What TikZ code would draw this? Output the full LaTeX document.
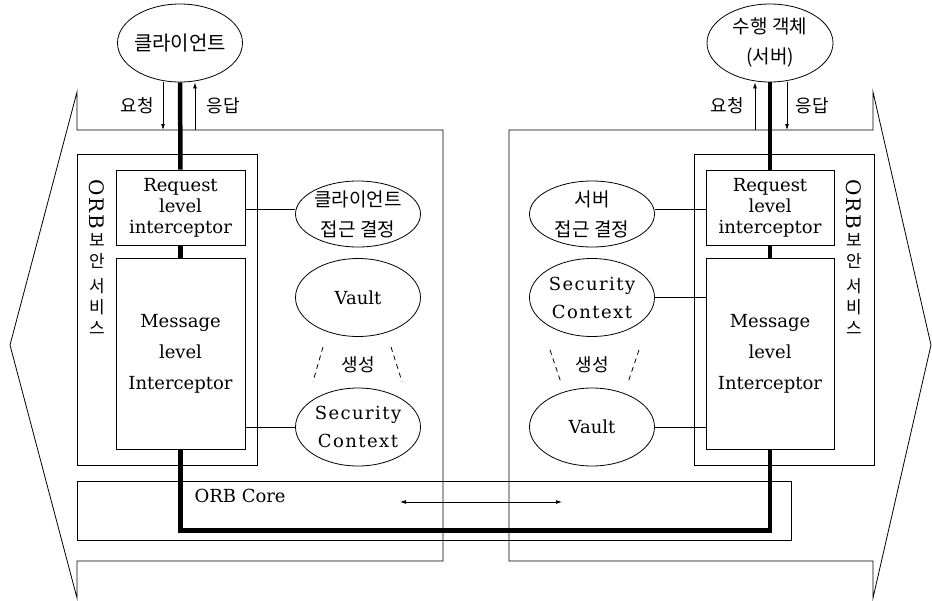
\documentclass[tikz,border=0pt]{standalone}
\usepackage{fontspec}
\setmainfont{DejaVu Serif}
\newfontfamily\kr{Noto Sans CJK KR}
\newfontfamily\wide[LetterSpace=8]{DejaVu Serif}
\usepackage{tikz}
\usetikzlibrary{shapes.geometric, arrows.meta}

\tikzset{
    wire/.style={line width=0.8pt},
    bus/.style={line width=4.5pt},
    box/.style={draw, wire, rectangle, align=center, inner sep=0pt},
    oval/.style={draw, wire, ellipse, inner sep=0pt, minimum width=125pt, minimum height=78pt},
    txt/.style={font=\fontsize{18}{21}\selectfont, align=center},
    hangul/.style={font=\kr\fontsize{18}{30}\selectfont, align=center},
    arr/.style={wire, -{Latex[length=6pt, width=4pt]}},
    gen/.style={wire, dash pattern=on 5pt off 4pt},
}

\newcommand{\svcname}{\rotatebox{-90}{\fontsize{20}{20}\selectfont O\kern2pt R\kern2pt B}\\[3pt]{\kr 보}\\{\kr 안}\\[4pt]{\kr 서}\\{\kr 비}\\{\kr 스}}

\begin{document}
\begin{tikzpicture}[x=1pt, y=-1pt]
    \useasboundingbox (0,0) rectangle (932,600);

    % Client machine (left)
    \begin{scope}
        \coordinate (L1) at (77, 92);
        \coordinate (L2) at (77, 130);
        \coordinate (L3) at (443, 130);
        \coordinate (L4) at (443, 561);
        \coordinate (L5) at (77, 561);
        \coordinate (L6) at (77, 598);
        \coordinate (L7) at (10, 345);
        \draw[wire] (L1) -- (L2) -- (L3) -- (L4) -- (L5) -- (L6) -- (L7) -- cycle;

        % ORB security service
        \node[box, minimum width=180pt, minimum height=311pt] (lsec) at (167, 309.5) {};
        \node[font=\fontsize{17}{21}\selectfont, align=center] (lsecname) at (97, 257) {\svcname};
        \node[box, txt, minimum width=129pt, minimum height=75pt] (lreq) at (180.5, 207.5)
            {Request\\level\\interceptor};
        \node[box, font=\fontsize{18}{31}\selectfont, minimum width=129pt, minimum height=191pt] (lmsg) at (180.5, 353.5)
            {Message\\level\\Interceptor};

        % client and its objects
        \node[oval] (cli) at (180, 43) {};
        \node[hangul, font=\kr\fontsize{20}{30}\selectfont] at (cli) {클라이언트};
        \node[oval, minimum height=66pt] (cliacc) at (358, 214) {};
        \node[hangul, font=\kr\fontsize{19}{30}\selectfont] at (cliacc) {클라이언트\\접근 결정};
        \node[oval] (lvault) at (358, 297.5) {};
        \node[txt] at (lvault) {Vault};
        \node[oval] (lctx) at (358, 427) {};
        \node[txt, font=\wide\fontsize{18}{28}\selectfont] at (lctx) {Security\\Context};

        \node[hangul] at (358, 365) {생성};
        \draw[gen] ([xshift=-35pt, yshift=-10pt]lvault.south) -- ([xshift=-45pt, yshift=6pt]lctx.north);
        \draw[gen] ([xshift=33pt, yshift=-10pt]lvault.south) -- ([xshift=44pt, yshift=6pt]lctx.north);

        % request and reply
        \draw[arr] ([xshift=-17pt]cli.south) -- ([xshift=-17pt]cli.south |- L2);
        \draw[arr] ([xshift=15pt]cli.south |- L2) -- ([xshift=15pt]cli.south);
        \node[hangul] at (137, 106) {요청};
        \node[hangul] at (223, 106) {응답};

        \draw[wire] (lreq.east |- 0,209) -- (cliacc.west |- 0,209);
        \draw[wire] (lctx.west) -- (lctx.west -| lmsg.east);
    \end{scope}

    % Server machine (right)
    \begin{scope}
        \coordinate (R1) at (873, 92);
        \coordinate (R2) at (873, 130);
        \coordinate (R3) at (509, 130);
        \coordinate (R4) at (509, 561);
        \coordinate (R5) at (873, 561);
        \coordinate (R6) at (873, 598);
        \coordinate (R7) at (931, 345);
        \draw[wire] (R1) -- (R2) -- (R3) -- (R4) -- (R5) -- (R6) -- (R7) -- cycle;

        % ORB security service
        \node[box, minimum width=180pt, minimum height=311pt] (rsec) at (784, 309.5) {};
        \node[font=\fontsize{17}{21}\selectfont, align=center] (rsecname) at (854, 257) {\svcname};
        \node[box, txt, minimum width=128pt, minimum height=75pt] (rreq) at (770, 207.5)
            {Request\\level\\interceptor};
        \node[box, font=\fontsize{18}{31}\selectfont, minimum width=128pt, minimum height=191pt] (rmsg) at (770, 353.5)
            {Message\\level\\Interceptor};

        % server and its objects
        \node[oval, minimum width=126pt] (srv) at (770, 43) {};
        \node[hangul, font=\kr\fontsize{19}{30}\selectfont] at (srv) {수행 객체\\(서버)};
        \node[oval, minimum height=66pt] (srvacc) at (592, 214) {};
        \node[hangul, font=\kr\fontsize{19}{30}\selectfont] at (srvacc) {서버\\접근 결정};
        \node[oval] (rctx) at (592, 297.5) {};
        \node[txt, font=\wide\fontsize{18}{28}\selectfont] at (rctx) {Security\\Context};
        \node[oval] (rvault) at (592, 427) {};
        \node[txt] at (rvault) {Vault};

        \node[hangul] at (592, 365) {생성};
        \draw[gen] ([xshift=-42pt, yshift=-13pt]rctx.south) -- ([xshift=-31pt, yshift=5pt]rvault.north);
        \draw[gen] ([xshift=47pt, yshift=-13pt]rctx.south) -- ([xshift=36pt, yshift=5pt]rvault.north);

        % request and reply
        \draw[arr] ([xshift=-15pt]srv.south |- R2) -- ([xshift=-15pt]srv.south);
        \draw[arr] ([xshift=17pt]srv.south) -- ([xshift=17pt]srv.south |- R2);
        \node[hangul] at (727, 106) {요청};
        \node[hangul] at (812, 106) {응답};

        \draw[wire] (srvacc.east |- 0,209) -- (rreq.west |- 0,209);
        \draw[wire] (rctx.east) -- (rctx.east -| rmsg.west);
        \draw[wire] (rvault.east) -- (rvault.east -| rmsg.west);
    \end{scope}

    % ORB core shared by both sides
    \node[box, minimum width=714pt, minimum height=59pt] (core) at (434, 510.5) {};
    \node[txt, anchor=west] (corename) at (191, 496) {ORB Core};
    \draw[wire, {Latex[length=6pt, width=4pt]}-{Latex[length=6pt, width=4pt]}] (400, 502) -- (562, 502);

    % thick call path
    \draw[bus] (cli.south) -- (lreq.north);
    \draw[bus] (lreq.south) -- (lmsg.south |- lmsg.north);
    \draw[bus, line join=miter] (lmsg.south) -- ++(0, 81) -| (rmsg.south);
    \draw[bus] (rmsg.north) -- (rreq.south);
    \draw[bus] (rreq.north) -- (srv.south);
\end{tikzpicture}
\end{document}
